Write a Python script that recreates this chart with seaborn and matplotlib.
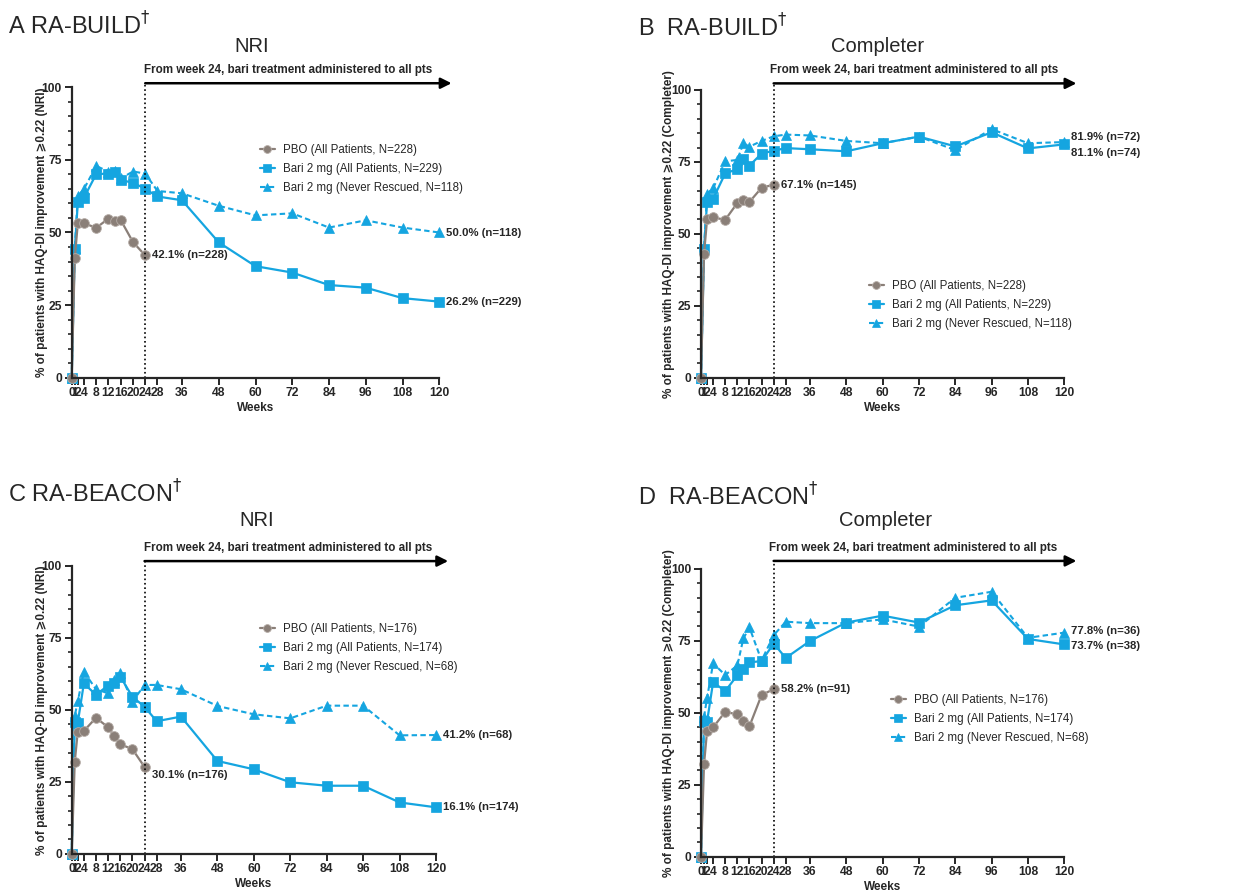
import matplotlib
matplotlib.use("Agg")
import matplotlib.pyplot as plt
import seaborn as sns
from matplotlib.ticker import MultipleLocator

# Weeks on the x axis
weeks_pbo = [0, 1, 2, 4, 8, 12, 14, 16, 20, 24]
weeks_bari = [0, 1, 2, 4, 8, 12, 14, 16, 20, 24, 28, 36, 48, 60, 72, 84, 96, 108, 120]
week_ticks = [0, 1, 2, 4, 8, 12, 16, 20, 24, 28, 36, 48, 60, 72, 84, 96, 108, 120]

# A: RA-BUILD, NRI
build_nri_pbo = [0, 41.1, 53.2, 53.2, 51.6, 54.8, 53.9, 54.3, 46.7, 42.1]
build_nri_bari = [0, 44.3, 60.4, 62.0, 70.1, 70.3, 70.7, 68.0, 67.2, 65.0, 62.4, 61.1, 46.6, 38.4, 36.2, 31.9, 31.0, 27.4, 26.2]
build_nri_never = [0, 44.5, 62.6, 65.0, 72.9, 71.0, 71.2, 68.6, 71.0, 70.3, 64.3, 63.5, 59.2, 55.9, 56.6, 51.7, 54.2, 51.7, 50.0]

# B: RA-BUILD, Completer
build_comp_pbo = [0, 43.0, 55.0, 55.7, 54.9, 60.7, 61.6, 61.1, 66.0, 67.1]
build_comp_bari = [0, 44.8, 61.0, 62.2, 71.0, 72.5, 76.1, 73.7, 77.9, 78.9, 79.8, 79.4, 78.7, 81.5, 83.8, 80.4, 85.3, 79.7, 81.1]
build_comp_never = [0, 44.8, 64.0, 65.8, 75.2, 75.7, 81.5, 80.3, 82.3, 83.9, 84.5, 84.2, 82.3, 81.5, 83.8, 79.1, 86.4, 81.5, 81.9]

# C: RA-BEACON, NRI
beacon_nri_pbo = [0, 31.8, 42.4, 42.6, 47.2, 43.9, 40.9, 38.0, 36.3, 30.1]
beacon_nri_bari = [0, 45.8, 45.5, 59.1, 55.2, 58.4, 59.1, 61.5, 54.5, 51.0, 46.0, 47.6, 32.2, 29.3, 24.8, 23.6, 23.6, 17.8, 16.1]
beacon_nri_never = [0, 47.9, 52.9, 63.2, 57.1, 55.7, 60.3, 62.7, 52.8, 58.6, 58.6, 57.1, 51.3, 48.4, 47.0, 51.4, 51.4, 41.1, 41.2]

# D: RA-BEACON, Completer
beacon_comp_pbo = [0, 32.1, 43.6, 44.9, 50.3, 49.4, 47.1, 45.3, 56.1, 58.2]
beacon_comp_bari = [0, 47.2, 46.9, 60.6, 57.5, 63.0, 65.3, 67.5, 67.9, 74.0, 69.0, 74.9, 81.3, 83.7, 81.3, 87.3, 89.0, 75.6, 73.7]
beacon_comp_never = [0, 48.6, 55.1, 67.1, 63.1, 66.4, 75.8, 79.6, 68.1, 76.9, 81.6, 81.1, 81.1, 82.4, 79.9, 89.9, 92.0, 76.0, 77.8]

build_labels = ["PBO (All Patients, N=228)", "Bari 2 mg (All Patients, N=229)", "Bari 2 mg (Never Rescued, N=118)"]
beacon_labels = ["PBO (All Patients, N=176)", "Bari 2 mg (All Patients, N=174)", "Bari 2 mg (Never Rescued, N=68)"]

sns.set_style("ticks")
plt.rcParams['font.family'] = ['Liberation Sans Narrow', 'Liberation Sans', 'DejaVu Sans']

GRAY = "#8a7f78"
BLUE = "#15a5e0"

W, H = 1242, 893
fig = plt.figure(figsize=(W / 100, H / 100), dpi=100)


def fx(px):
    return px / W


def fy(py):
    return 1 - py / H


panels = [
    dict(rect=(71.7, 87.3, 439.3, 377.7), title="A RA-BUILD", title_xy=(8, 26),
         sub="NRI", sub_xy=(252, 47), note_xy=(288, 70), arrow_y=101.4,
         ylab="% of patients with HAQ-DI improvement \u2a7e0.22 (NRI)", ylab_x=42,
         data=(build_nri_pbo, build_nri_bari, build_nri_never), labels=build_labels,
         leg_xy=(260, 144),
         notes=[(24, 42.1, "42.1% (n=228)", 0), (120, 50.0, "50.0% (n=118)", 0), (120, 26.2, "26.2% (n=229)", 0)]),
    dict(rect=(701, 90, 1064.3, 377.7), title="B  RA-BUILD", title_xy=(638, 28),
         sub="Completer", sub_xy=(878, 47), note_xy=(914, 70), arrow_y=102.3,
         ylab="% of patients with HAQ-DI improvement \u2a7e0.22 (Completer)", ylab_x=669,
         data=(build_comp_pbo, build_comp_bari, build_comp_never), labels=build_labels,
         leg_xy=(869, 280),
         notes=[(24, 67.1, "67.1% (n=145)", 0), (120, 81.9, "81.9% (n=72)", 4), (120, 81.1, "81.1% (n=74)", -6)]),
    dict(rect=(71.7, 565.7, 436, 853.7), title="C RA-BEACON", title_xy=(8, 494),
         sub="NRI", sub_xy=(257, 521), note_xy=(288, 548), arrow_y=101.6,
         ylab="% of patients with HAQ-DI improvement \u2a7e0.22 (NRI)", ylab_x=42,
         data=(beacon_nri_pbo, beacon_nri_bari, beacon_nri_never), labels=beacon_labels,
         leg_xy=(260, 623),
         notes=[(24, 30.1, "30.1% (n=176)", -6), (120, 41.2, "41.2% (n=68)", 0), (120, 16.1, "16.1% (n=174)", 0)]),
    dict(rect=(701, 568.7, 1064.3, 856.7), title="D  RA-BEACON", title_xy=(638, 497),
         sub="Completer", sub_xy=(886, 521), note_xy=(913, 548), arrow_y=102.7,
         ylab="% of patients with HAQ-DI improvement \u2a7e0.22 (Completer)", ylab_x=669,
         data=(beacon_comp_pbo, beacon_comp_bari, beacon_comp_never), labels=beacon_labels,
         leg_xy=(891, 694),
         notes=[(24, 58.2, "58.2% (n=91)", 0), (120, 77.8, "77.8% (n=36)", 1), (120, 73.7, "73.7% (n=38)", -1)]),
]

for p in panels:
    x0, y0, x1, y1 = p["rect"]
    ax = fig.add_axes([fx(x0), fy(y1), (x1 - x0) / W, (y1 - y0) / H])
    pbo, bari, never = p["data"]

    # draw never rescued first, PBO last so it sits on top
    sns.lineplot(x=weeks_bari, y=never, ax=ax, color=BLUE, marker="^", markersize=6.5,
                 linewidth=1.5, linestyle=(0, (2.6, 1.6)), mec=BLUE, mew=0.5,
                 label=p["labels"][2], clip_on=False)
    sns.lineplot(x=weeks_bari, y=bari, ax=ax, color=BLUE, marker="s", markersize=6.5,
                 linewidth=1.6, mec=BLUE, mew=0.5, label=p["labels"][1], clip_on=False)
    sns.lineplot(x=weeks_pbo, y=pbo, ax=ax, color=GRAY, marker="o", markersize=7,
                 linewidth=1.6, mec="#b5aca6", mew=0.6, label=p["labels"][0], clip_on=False)

    ax.set_xlim(0, 120)
    ax.set_ylim(0, 100)
    ax.set_xticks(week_ticks)
    ax.set_xticklabels([str(w) for w in week_ticks])
    ax.set_yticks([0, 25, 50, 75, 100])
    ax.yaxis.set_minor_locator(MultipleLocator(5))
    sns.despine(ax=ax)
    for s in ["left", "bottom"]:
        ax.spines[s].set_linewidth(1.6)
    ax.tick_params(which="major", length=5, width=1.4, labelsize=8.7, pad=2)
    ax.tick_params(which="minor", axis="y", length=3, width=1.2)
    for lab in ax.get_xticklabels() + ax.get_yticklabels():
        lab.set_fontweight("bold")

    ax.set_xlabel("Weeks", fontsize=8.5, fontweight="bold", labelpad=2)
    ax.set_ylabel("")
    fig.text(fx(p["ylab_x"]), fy((y0 + y1) / 2), p["ylab"], rotation=90, ha="center", va="center",
             fontsize=8.5, fontweight="bold")

    # dotted line at week 24 and the arrow above the plot
    ax.plot([24, 24], [0, p["arrow_y"]], color="black", linestyle=":", linewidth=1.2, clip_on=False)
    ax.annotate("", xy=(124, p["arrow_y"]), xytext=(24, p["arrow_y"]),
                arrowprops=dict(arrowstyle="-|>", color="black", lw=1.8, mutation_scale=16,
                                shrinkA=0, shrinkB=0),
                annotation_clip=False)

    for wk, val, txt, dy in p["notes"]:
        ax.annotate(txt, (wk, val), xytext=(5, dy), textcoords="offset points", va="center",
                    ha="left", fontsize=8.2, fontweight="bold", annotation_clip=False)

    handles, labels = ax.get_legend_handles_labels()
    order = [2, 1, 0]
    ax.legend([handles[i] for i in order], [labels[i] for i in order],
              loc="upper left", bbox_to_anchor=(fx(p["leg_xy"][0]), fy(p["leg_xy"][1])),
              bbox_transform=fig.transFigure, frameon=False, fontsize=8.3,
              handlelength=1.3, handletextpad=0.7, labelspacing=0.6, borderpad=0,
              borderaxespad=0, markerscale=0.8)

    fig.text(fx(p["title_xy"][0]), fy(p["title_xy"][1]), p["title"] + "$^{\u2020}$", fontsize=17,
             ha="left", va="center", family="Liberation Sans")
    fig.text(fx(p["sub_xy"][0]), fy(p["sub_xy"][1]), p["sub"], fontsize=14.5, ha="center",
             va="center", family="Liberation Sans")
    fig.text(fx(p["note_xy"][0]), fy(p["note_xy"][1]),
             "From week 24, bari treatment administered to all pts",
             fontsize=8.4, fontweight="bold", ha="center", va="center")

fig.savefig("out.png", dpi=100, facecolor="white")
